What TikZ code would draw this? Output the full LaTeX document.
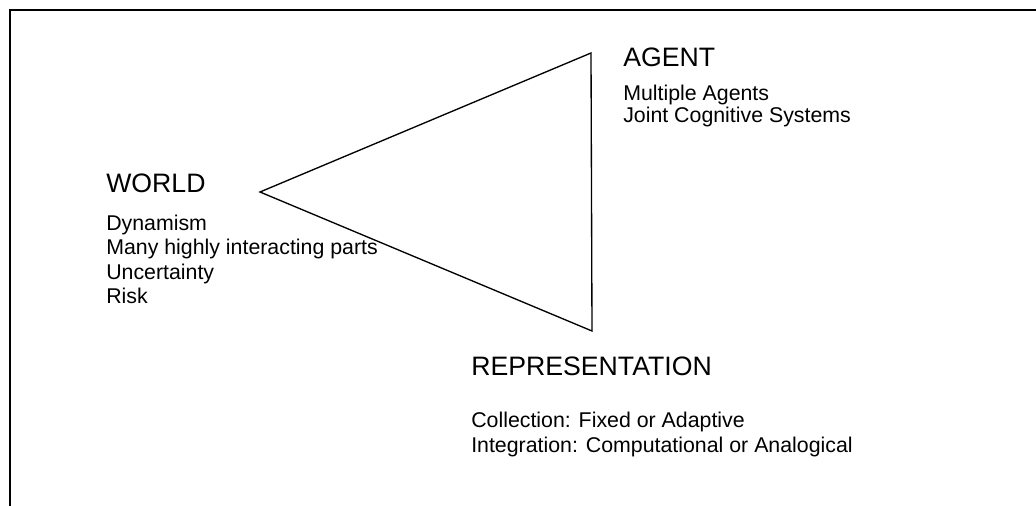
\documentclass[tikz,border=0pt]{standalone}
\usepackage{fontspec}
\setmainfont{Liberation Sans}
\begin{document}
\begin{tikzpicture}[x=0.75pt,y=-0.75pt,
  frameline/.style={line width=1.5pt},
  edge/.style={line width=1pt, line join=miter},
  heading/.style={anchor=base west, inner sep=0pt, font=\fontsize{20}{24}\selectfont},
  item/.style={anchor=base west, inner sep=0pt, font=\fontsize{16}{18.4}\selectfont}]
\useasboundingbox (0,0) rectangle (1036,506);
% open frame: top and left edges
\coordinate (fa) at (10,506);
\coordinate (fb) at (10,10);
\coordinate (fc) at (1036,10);
\draw[frameline] (fa) -- (fb) -- (fc);
% triangle
\coordinate (w) at (260,192);
\coordinate (a) at (591,53);
\coordinate (r) at (592,331);
\draw[edge] (w) -- (a) -- (r) -- cycle;
% WORLD
\node[heading] (wh) at (106,193) {WORLD};
\node[item] (w1) at (106,230.5) {Dynamism};
\node[item] (w2) at (106,255) {Many highly interacting parts};
\node[item] (w3) at (106,279.5) {Uncertainty};
\node[item] (w4) at (106,304) {Risk};
% AGENT
\node[heading] (ah) at (623,67) {AGENT};
\node[item] (a1) at (623,101) {Multiple Agents};
\node[item] (a2) at (623,123) {Joint Cognitive Systems};
% REPRESENTATION
\node[heading] (rh) at (471,375) {REPRESENTATION};
\node[item] (r1) at (471,427.5) {Collection: Fixed or Adaptive};
\node[item] (r2) at (471,452) {Integration: Computational or Analogical};
\end{tikzpicture}
\end{document}
